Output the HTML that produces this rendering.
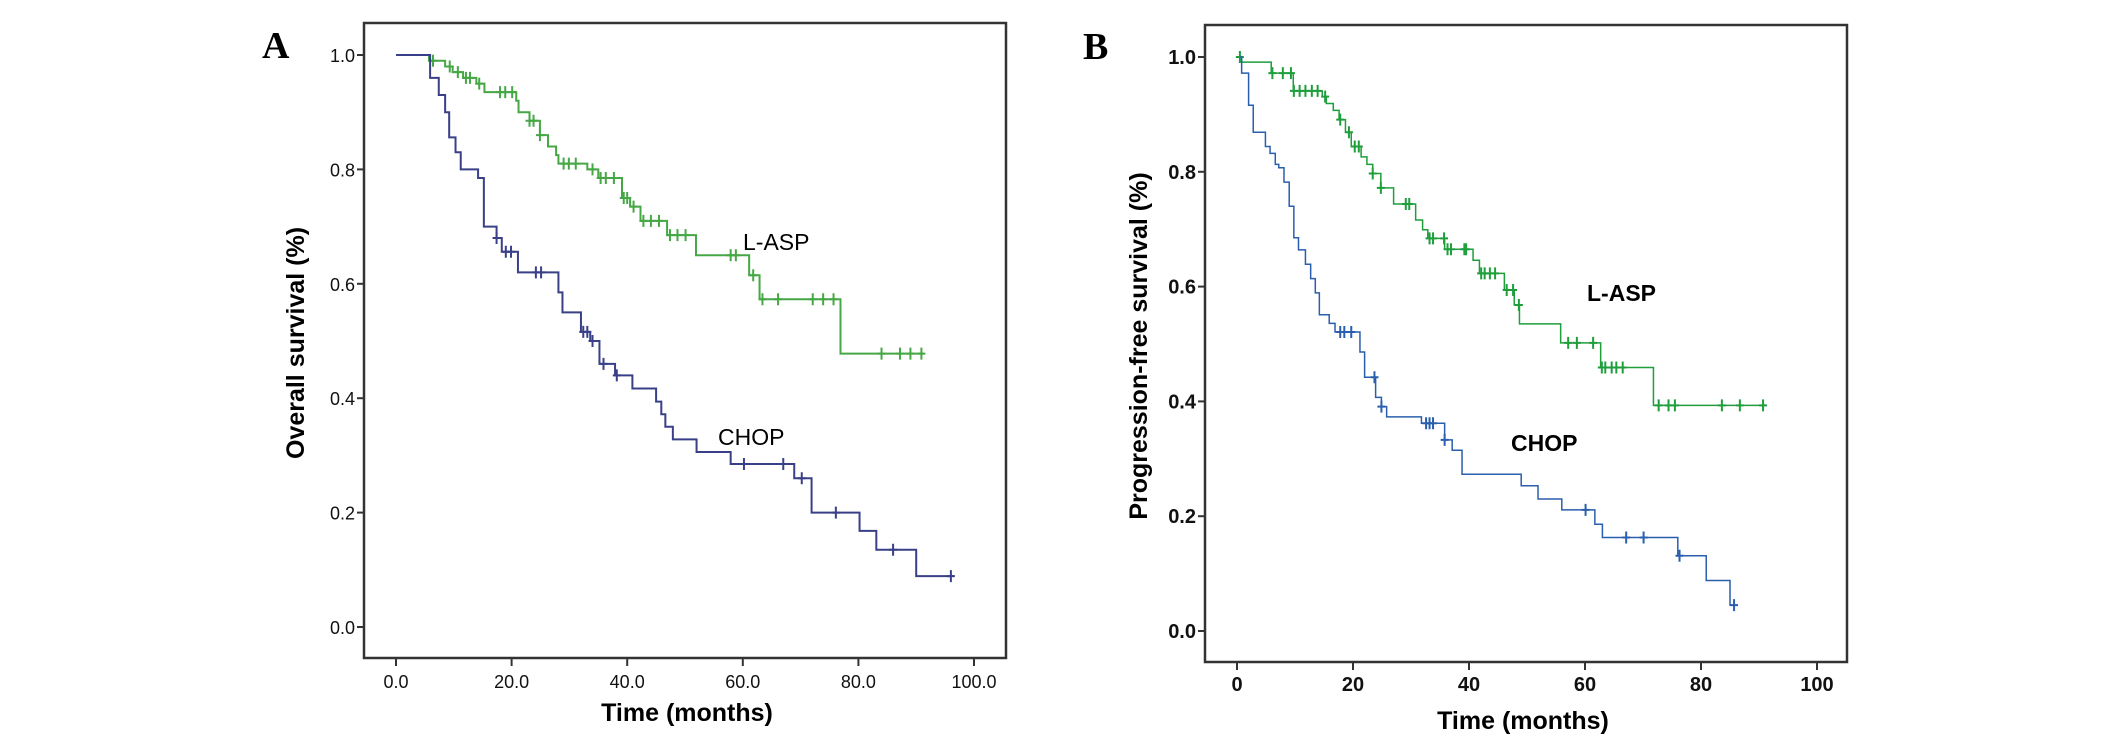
<!DOCTYPE html>
<html><head><meta charset="utf-8"><style>
body{margin:0;background:#fff;}
svg{display:block;}
text{font-family:"Liberation Sans",Arial,sans-serif;}
</style></head><body>
<svg id="fig" width="2126" height="739" viewBox="0 0 2126 739">
<rect width="2126" height="739" fill="#fff"/>
</svg>
<script>
// Panel A: Overall survival
const aGreenT=[0,5.7,8.5,9.8,11.6,13.9,15.3,20.8,21.2,23.1,24.9,26.3,27.7,28.1,33.1,35,39.1,40.5,42.3,46.9,51.9,61.1,62.9,76.9,91.3];
const aGreenS=[1,0.99,0.98,0.97,0.96,0.95,0.935,0.92,0.90,0.885,0.86,0.84,0.825,0.81,0.80,0.785,0.75,0.735,0.71,0.685,0.65,0.615,0.573,0.478,0.478];
const aGreenCens=[6.4,9.3,10.7,12.1,12.8,14.4,18.0,18.9,20.1,23.1,23.8,24.9,29.0,29.9,31.1,34.0,35.4,36.3,37.7,39.4,40.0,41.1,42.8,44.1,45.5,47.4,48.7,50.1,57.9,58.8,61.8,63.4,66.1,72.1,73.9,75.7,84.0,87.2,89.0,90.9];
const aBlueT=[0,5.9,7.4,8.5,9.2,10.3,11.2,14.2,15.2,17.4,18.3,21.1,28.1,28.8,32,33.6,35.2,37.9,40.9,45.0,45.9,46.6,47.9,52,57.9,68.9,71.9,80.2,83.1,90.0,96.5];
const aBlueS=[1,0.96,0.93,0.90,0.856,0.83,0.80,0.785,0.70,0.68,0.656,0.62,0.585,0.55,0.516,0.50,0.46,0.44,0.417,0.394,0.372,0.35,0.328,0.306,0.285,0.26,0.20,0.168,0.135,0.089,0.089];
const aBlueCens=[17.4,19,19.9,24.2,25.1,32.4,33.1,34.0,35.9,38.2,60.2,67.0,70.2,76.1,86.0,96];
const aXTicks=[0,20,40,60,80,100];
const aXTickLabels=["0.0","20.0","40.0","60.0","80.0","100.0"];
const aYTicks=[0,0.2,0.4,0.6,0.8,1.0];
const aYTickLabels=["0.0","0.2","0.4","0.6","0.8","1.0"];
// Panel B: Progression-free survival
const bGreenT=[0.5,0.8,5.9,9.7,14.7,15.4,16.6,17.6,18.7,19.7,21.4,22.4,23.4,24.8,27.0,30.8,32.0,32.9,35.8,40.7,41.8,46.1,47.8,48.7,55.8,62.7,71.8,90.7];
const bGreenS=[1,0.991,0.972,0.941,0.931,0.919,0.907,0.891,0.869,0.844,0.826,0.813,0.797,0.772,0.744,0.716,0.699,0.684,0.665,0.646,0.623,0.594,0.568,0.535,0.502,0.459,0.393,0.393];
const bGreenCens=[0.5,6.1,7.9,9.3,9.8,10.8,11.8,12.9,13.9,15.2,17.8,19.3,20.3,21,23.4,24.8,29.1,29.7,33.2,33.8,35.7,36.3,36.9,39.2,39.5,42.1,42.7,43.6,44.5,46.5,47.6,48.6,57.1,58.6,61.4,62.9,63.5,64.6,65.4,66.5,72.7,74.4,75.5,83.6,86.7,90.7];
const bBlueT=[0.5,0.8,2.0,2.8,4.9,5.7,6.6,7.2,8.1,9.0,9.8,10.6,11.8,12.7,13.5,14.2,15.9,16.9,21.2,22.0,23.9,24.9,25.8,31.8,35.8,37.1,38.8,49,51.9,56,61.7,63,76,80.9,85,85.9];
const bBlueS=[1,0.972,0.916,0.869,0.844,0.832,0.813,0.807,0.782,0.74,0.685,0.664,0.639,0.614,0.589,0.551,0.536,0.521,0.486,0.442,0.407,0.391,0.373,0.362,0.333,0.315,0.273,0.253,0.23,0.211,0.186,0.163,0.131,0.088,0.045,0.045];
const bBlueCens=[17.8,18.5,19.7,23.7,24.9,32.6,33.2,33.8,35.8,60.1,67.1,70.1,76.3,85.7];
const bXTicks=[0,20,40,60,80,100];
const bXTickLabels=["0","20","40","60","80","100"];
const bYTicks=[0,0.2,0.4,0.6,0.8,1.0];
const bYTickLabels=["0.0","0.2","0.4","0.6","0.8","1.0"];

const NS="http://www.w3.org/2000/svg";
const svg=document.getElementById('fig');
function mk(tag,attrs,parent){const e=document.createElementNS(NS,tag);for(const k in attrs)e.setAttribute(k,attrs[k]);(parent||svg).appendChild(e);return e;}
function stepAt(T,S,t){let s=S[0];for(let i=0;i<T.length;i++){if(T[i]<=t)s=S[i];}return s;}

function panel(cfg){
  const g=mk('g',{});
  
  
  const X=t=>cfg.x0+t*cfg.px;
  const Y=s=>cfg.y0-s*cfg.py;
  const frame=mk('rect',{x:cfg.fl,y:cfg.ft,width:cfg.fr-cfg.fl,height:cfg.fb-cfg.ft,fill:'none',stroke:'#333',"stroke-width":2.5},g);
  
  
  cfg.yt.forEach((v,i)=>{
    mk('line',{x1:cfg.fl-7,x2:cfg.fl,y1:Y(v),y2:Y(v),stroke:'#333',"stroke-width":2},g);
    const t=mk('text',{x:cfg.fl-9,y:Y(v)+7,"text-anchor":'end',"font-size":cfg.tfs,"font-weight":cfg.tfw,fill:'#111'},g);
    t.textContent=cfg.ytl[i];
    
    
  });
  cfg.xt.forEach((v,i)=>{
    mk('line',{x1:X(v),x2:X(v),y1:cfg.fb,y2:cfg.fb+8,stroke:'#333',"stroke-width":2},g);
    const t=mk('text',{x:X(v),y:cfg.xly,"text-anchor":'middle',"font-size":cfg.tfs,"font-weight":cfg.tfw,fill:'#111'},g);
    t.textContent=cfg.xtl[i];
    
    
  });
  cfg.series.forEach(sr=>{
    let d='M'+X(sr.T[0])+','+Y(sr.S[0]);
    for(let i=1;i<sr.T.length;i++){d+=' H'+X(sr.T[i])+' V'+Y(sr.S[i]);}
    const p=mk('path',{d:d,fill:'none',stroke:sr.color,"stroke-width":sr.w},g);
    
    
    sr.C.forEach(c=>{
      const s=stepAt(sr.T,sr.S,c);
      const m=mk('path',{d:'M'+(X(c)-4)+','+Y(s)+' h8 M'+X(c)+','+(Y(s)-6)+' v12',stroke:sr.color,"stroke-width":2,fill:'none'},g);
      
      
    });
  });
  return g;
}
panel({name:'panel-a',x0:396,px:5.78,y0:627,py:572,fl:364,fr:1006,ft:23,fb:658,tfs:18,tfw:'normal',xly:688,
  xt:aXTicks,xtl:aXTickLabels,yt:aYTicks,ytl:aYTickLabels,
  series:[{name:'l-asp-os',T:aGreenT,S:aGreenS,C:aGreenCens,color:'#45a845',w:2},
          {name:'chop-os',T:aBlueT,S:aBlueS,C:aBlueCens,color:'#3a4088',w:2}]});
panel({name:'panel-b',x0:1237,px:5.8,y0:631,py:574,fl:1205,fr:1847,ft:25,fb:662,tfs:20,tfw:'bold',xly:691,
  xt:bXTicks,xtl:bXTickLabels,yt:bYTicks,ytl:bYTickLabels,
  series:[{name:'l-asp-pfs',T:bGreenT,S:bGreenS,C:bGreenCens,color:'#1f9e3c',w:1.5},
          {name:'chop-pfs',T:bBlueT,S:bBlueS,C:bBlueCens,color:'#2a5fae',w:1.5}]});
</script>
<script>
(function(){
const NS="http://www.w3.org/2000/svg";const svg=document.getElementById('fig');
function txt(s,attrs,name){const e=document.createElementNS(NS,'text');for(const k in attrs)e.setAttribute(k,attrs[k]);e.textContent=s;


svg.appendChild(e);}
txt('A',{x:262,y:58,"font-size":38,"font-weight":'bold',style:'font-family:"Liberation Serif",serif'},'panel-a-label');
txt('B',{x:1083,y:59,"font-size":38,"font-weight":'bold',style:'font-family:"Liberation Serif",serif'},'panel-b-label');
txt('L-ASP',{x:743,y:250,"font-size":23},'l-asp-label-a');
txt('CHOP',{x:718,y:445,"font-size":23},'chop-label-a');
txt('L-ASP',{x:1587,y:301,"font-size":23,"font-weight":'bold'},'l-asp-label-b');
txt('CHOP',{x:1511,y:451,"font-size":23,"font-weight":'bold'},'chop-label-b');
txt('Time (months)',{x:687,y:721,"text-anchor":'middle',"font-size":25,"font-weight":'bold'},'x-axis-title-a');
txt('Time (months)',{x:1523,y:729,"text-anchor":'middle',"font-size":25,"font-weight":'bold'},'x-axis-title-b');
txt('Overall survival (%)',{x:0,y:0,"text-anchor":'middle',"font-size":25,"font-weight":'bold',transform:'translate(304,343) rotate(-90)'},'y-axis-title-a');
txt('Progression-free survival (%)',{x:0,y:0,"text-anchor":'middle',"font-size":25,"font-weight":'bold',transform:'translate(1147,346) rotate(-90)'},'y-axis-title-b');
})();
</script>
</body></html>
